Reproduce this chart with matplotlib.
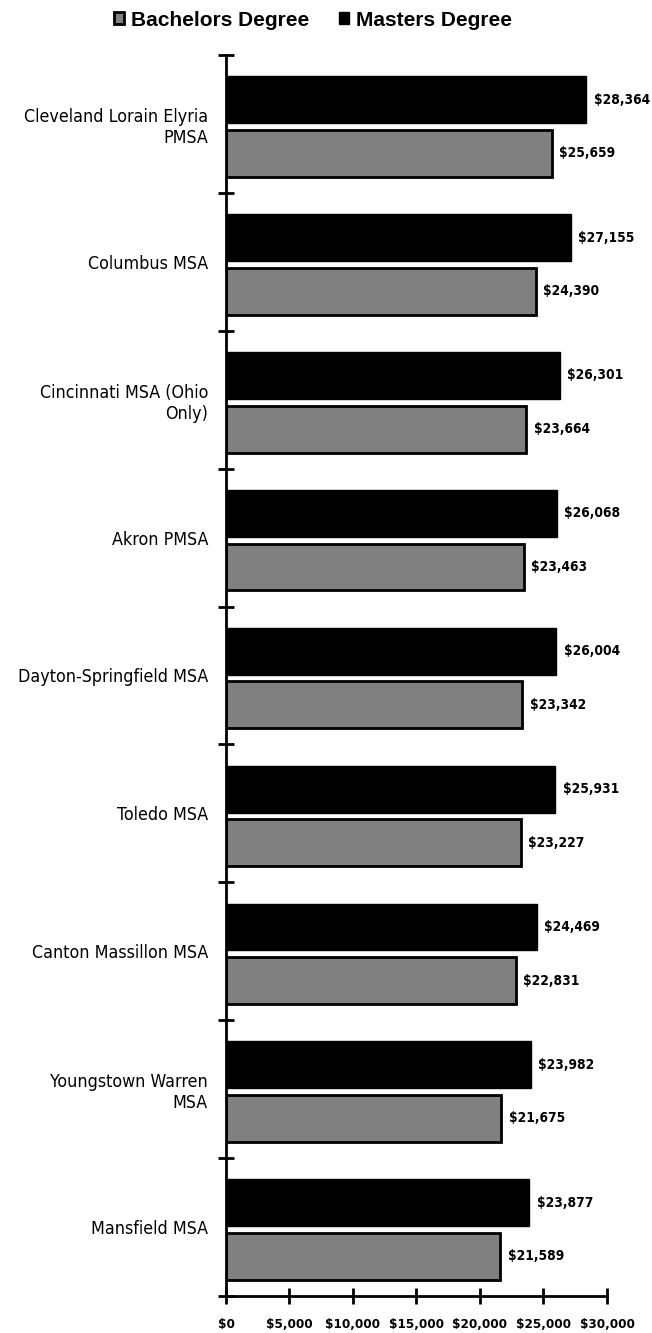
import matplotlib
matplotlib.use("Agg")
import matplotlib.pyplot as plt
import numpy as np
from matplotlib.ticker import FuncFormatter

regions = ["Cleveland Lorain Elyria\nPMSA", "Columbus MSA", "Cincinnati MSA (Ohio\nOnly)",
           "Akron PMSA", "Dayton-Springfield MSA", "Toledo MSA", "Canton Massillon MSA",
           "Youngstown Warren\nMSA", "Mansfield MSA"]
masters = [28364, 27155, 26301, 26068, 26004, 25931, 24469, 23982, 23877]
bachelors = [25659, 24390, 23664, 23463, 23342, 23227, 22831, 21675, 21589]
xticks = [0, 5000, 10000, 15000, 20000, 25000, 30000]

# condensed face, closest thing to the original's narrow font
cond = dict(family="DejaVu Sans", stretch="condensed")

fig = plt.figure(figsize=(6.52, 13.33), dpi=100)
ax = fig.add_axes([0.3466, 0.0278, 0.5843, 0.9309])

y = np.arange(len(regions))
h = 0.34
ax.barh(y - 0.176, masters, height=h, color="black", edgecolor="black", label="Masters Degree")
ax.barh(y + 0.213, bachelors, height=h, color="#808080", edgecolor="black", linewidth=2,
        label="Bachelors Degree")

for yi, m, b in zip(y, masters, bachelors):
    ax.text(m + 580, yi - 0.176, "${:,}".format(m), va="center", ha="left",
            fontsize=9.8, fontweight="bold", **cond)
    ax.text(b + 580, yi + 0.213, "${:,}".format(b), va="center", ha="left",
            fontsize=9.8, fontweight="bold", **cond)

ax.set_xlim(0, 30000)
ax.set_ylim(len(regions) - 0.5, -0.5)
ax.set_xticks(xticks)
ax.xaxis.set_major_formatter(FuncFormatter(lambda v, p: "${:,.0f}".format(v)))
for lbl in ax.get_xticklabels():
    lbl.set_family("DejaVu Sans")
    lbl.set_stretch("condensed")
    lbl.set_fontweight("bold")
    lbl.set_fontsize(9.6)

ax.set_yticks(np.arange(len(regions) + 1) - 0.5)
ax.set_yticklabels([])
ax.set_yticks(y, minor=True)
ax.set_yticklabels(regions, minor=True, fontsize=12.8, ha="right", **cond)
ax.tick_params(axis="y", which="minor", length=0, pad=13)
ax.tick_params(axis="y", which="major", direction="inout", length=12, width=2)
ax.tick_params(axis="x", direction="inout", length=12, width=2, pad=10)

for s in ["top", "right"]:
    ax.spines[s].set_visible(False)
for s in ["left", "bottom"]:
    ax.spines[s].set_linewidth(2)

handles, labels = ax.get_legend_handles_labels()
fig.legend(handles[::-1], labels[::-1], loc="upper center", bbox_to_anchor=(0.48, 1.006),
           ncol=2, frameon=False, handlelength=0.5, handleheight=0.5, handletextpad=0.35,
           columnspacing=1.4, prop={"family": "Liberation Sans", "weight": "bold", "size": 15})

fig.savefig("out.png", dpi=100)
